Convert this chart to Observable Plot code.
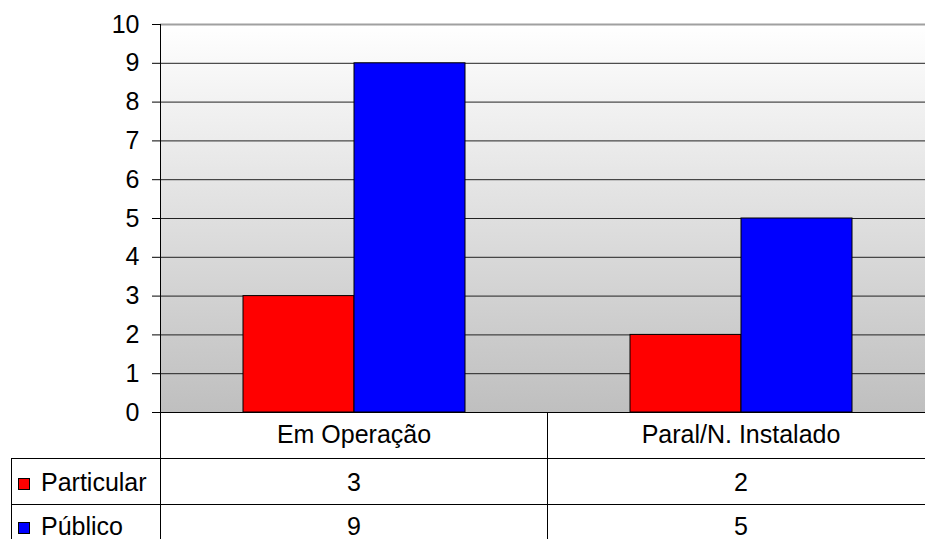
<!DOCTYPE html>
<html><head><meta charset="utf-8">
<script src="https://cdn.jsdelivr.net/npm/d3@7"></script>
<script src="https://cdn.jsdelivr.net/npm/@observablehq/plot@0.6"></script>
<style>body{margin:0;background:#fff} svg{display:block}</style>
</head><body><div id="chart"></div>
<script>
const categories = ["Em Operação", "Paral/N. Instalado"];
const series = ["Particular", "Público"];
const particular = [3, 2];
const publico = [9, 5];
const colors = ["#ff0000", "#0000ff"];
const yTicks = [0, 1, 2, 3, 4, 5, 6, 7, 8, 9, 10];

const data = categories.flatMap((c, i) => [
  {category: c, series: series[0], value: particular[i]},
  {category: c, series: series[1], value: publico[i]}
]);
const rowP = data.filter(d => d.series === series[0]);
const rowB = data.filter(d => d.series === series[1]);

const W = 925, H = 539, ML = 160, MT = 24, MB = 127;
const FS = 25;
const font = "'Liberation Sans', Arial, sans-serif";

const plot = Plot.plot({
  width: W, height: H,
  marginLeft: ML, marginRight: -9, marginTop: MT, marginBottom: MB,
  style: {fontFamily: font, fontSize: FS + "px", background: "#fff", color: "#000"},
  fx: {domain: categories, padding: 0, axis: null},
  x: {domain: series, paddingInner: 0, paddingOuter: 0.743, axis: null},
  y: {domain: [0, 10], axis: null},
  color: {domain: series, range: colors},
  marks: [
    Plot.ruleY(yTicks.slice(1, -1), {stroke: "#222", strokeWidth: 1}),
    Plot.ruleY([10], {stroke: "#a0a0a0", strokeWidth: 2}),
    Plot.barY(data, {fx: "category", x: "series", y: "value", fill: "series", stroke: "#000", strokeWidth: 1, inset: 0}),
    Plot.ruleY([0], {stroke: "#000"}),
    Plot.axisY(yTicks, {tickSize: 8, tickPadding: 13, label: null, fontSize: FS, stroke: "#000", fill: "#000"}),
    Plot.text(categories, {fx: d => d, text: d => d, frameAnchor: "bottom", lineAnchor: "middle", dy: 22, fontSize: FS, fill: "#000"}),
    Plot.text(rowP, {fx: "category", text: "value", frameAnchor: "bottom", lineAnchor: "middle", dy: 70, fontSize: FS, fill: "#000"}),
    Plot.text(rowB, {fx: "category", text: "value", frameAnchor: "bottom", lineAnchor: "middle", dy: 114, fontSize: FS, fill: "#000"})
  ]
});

const svg = d3.select(plot);
const y = plot.scale("y");
const fx = plot.scale("fx");
const y0 = y.apply(0);
const yTop = y.apply(10);

// gradient plot background, drawn behind the marks
svg.insert("defs", ":first-child").html(
  `<linearGradient id="bg" x1="0" y1="0" x2="0" y2="1">
     <stop offset="0" stop-color="#ffffff"/>
     <stop offset="1" stop-color="#bfbfbf"/>
   </linearGradient>`);
const firstG = plot.querySelector("g");
const bgRect = document.createElementNS("http://www.w3.org/2000/svg", "rect");
bgRect.setAttribute("x", ML); bgRect.setAttribute("y", yTop);
bgRect.setAttribute("width", W - ML); bgRect.setAttribute("height", y0 - yTop);
bgRect.setAttribute("fill", "url(#bg)");
plot.insertBefore(bgRect, firstG);

// data table grid, positioned from the plot's own scales
const split = fx.apply(categories[1]);
const row1 = y0 + 46, row2 = y0 + 92;
const tableLeft = 11;
const g = svg.append("g").attr("stroke", "#000").attr("stroke-width", 1).attr("shape-rendering", "crispEdges");
g.append("line").attr("x1", ML).attr("x2", ML).attr("y1", yTop).attr("y2", H);
g.append("line").attr("x1", split).attr("x2", split).attr("y1", y0).attr("y2", H);
g.append("line").attr("x1", tableLeft).attr("x2", tableLeft).attr("y1", row1).attr("y2", H);
g.append("line").attr("x1", tableLeft).attr("x2", W).attr("y1", row1).attr("y2", row1);
g.append("line").attr("x1", tableLeft).attr("x2", W).attr("y1", row2).attr("y2", row2);

// legend keys in the table rows
const color = plot.scale("color");
const rowsMid = [row1 + 24, row2 + 22];
series.forEach((s, i) => {
  svg.append("rect").attr("x", 18.5).attr("y", rowsMid[i] - 3.5).attr("width", 11).attr("height", 11)
    .attr("fill", color.apply(s)).attr("stroke", "#000").attr("stroke-width", 1);
  svg.append("text").attr("x", 41).attr("y", rowsMid[i]).attr("dy", "0.35em")
    .attr("text-anchor", "start")
    .attr("font-family", font).attr("font-size", FS).attr("fill", "#000").text(s);
});

document.getElementById("chart").append(plot);
</script>
</body></html>
